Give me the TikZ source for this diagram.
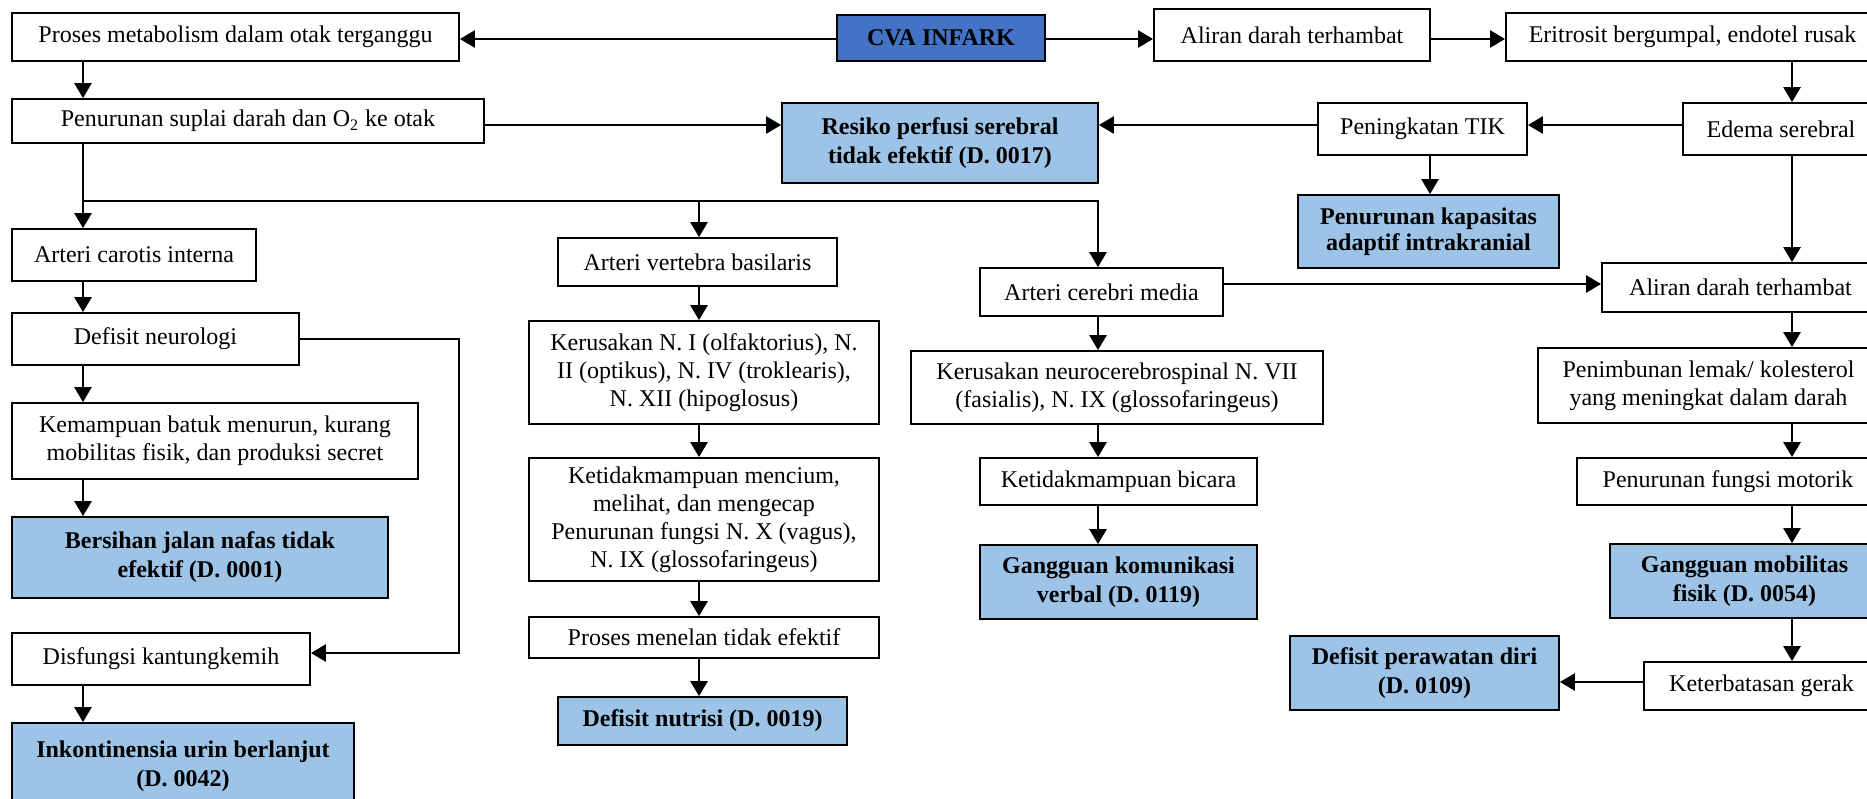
\documentclass[tikz,border=0pt]{standalone}
\usepackage{fontspec}
\setmainfont{Liberation Serif}
\usetikzlibrary{arrows.meta}
\definecolor{lblue}{RGB}{157,195,230}
\definecolor{dblue}{RGB}{68,114,196}
\tikzset{
  boxw/.style={draw=black, line width=0.9pt, fill=white, align=center, inner xsep=2pt, inner ysep=0pt, font=\fontsize{12}{14}\selectfont},
  boxb/.style={boxw, fill=lblue, font=\fontsize{12}{14.5}\selectfont\bfseries},
  boxc/.style={boxw, fill=dblue, font=\fontsize{12}{14.5}\selectfont\bfseries},
  conn/.style={line width=1.3pt, -{Triangle[length=7.5pt,width=8.5pt]}},
}
\newcommand\mkbox[7]{\node[#1, minimum width={(#5-#3)*0.5pt}, minimum height={(#6-#4)*0.5pt}] (#2) at ({(#3+#5)/2},{(#4+#6)/2}) {#7};}
\begin{document}
\begin{tikzpicture}[x=0.5pt,y=-0.5pt]
\useasboundingbox (0,0) rectangle (1867,798);
\fill[white] (0,0) rectangle (1867,798);
% row 1
\mkbox{boxw}{proses}{12}{13}{459}{61}{Proses metabolism dalam otak terganggu}
\mkbox{boxc}{cva}{837}{15}{1045}{61}{CVA INFARK}
\mkbox{boxw}{aliran1}{1154}{9}{1430}{61}{Aliran darah terhambat}
\mkbox{boxw}{eritrosit}{1506}{13}{1879}{61}{Eritrosit bergumpal, endotel rusak}
% row 2
\mkbox{boxw}{suplai}{12}{99}{484}{143}{\raisebox{-2.5pt}{Penurunan suplai darah dan O\textsubscript{2} ke otak}}
\mkbox{boxb}{resiko}{782}{103}{1098}{183}{Resiko perfusi serebral\\tidak efektif (D. 0017)}
\mkbox{boxw}{tik}{1318}{103}{1527}{155}{Peningkatan TIK}
\mkbox{boxw}{edema}{1683}{103}{1879}{155}{Edema serebral}
\mkbox{boxb}{kapasitas}{1298}{195}{1559}{268}{\raisebox{-2.5pt}{\begin{tabular}{@{}c@{}}Penurunan kapasitas\\[-1.5pt]adaptif intrakranial\end{tabular}}}
% arteries
\mkbox{boxw}{carotis}{12}{229}{256}{281}{Arteri carotis interna}
\mkbox{boxw}{vertebra}{558}{238}{837}{286}{Arteri vertebra basilaris}
\mkbox{boxw}{cerebri}{980}{268}{1223}{316}{Arteri cerebri media}
\mkbox{boxw}{aliran2}{1602}{263}{1879}{312}{Aliran darah terhambat}
% left column
\mkbox{boxw}{neuro}{12}{313}{299}{365}{Defisit neurologi}
\mkbox{boxw}{batuk}{12}{403}{418}{479}{Kemampuan batuk menurun, kurang\\mobilitas fisik, dan produksi secret}
\mkbox{boxb}{bersihan}{12}{517}{388}{598}{Bersihan jalan nafas tidak\\efektif (D. 0001)}
\mkbox{boxw}{disfungsi}{12}{633}{310}{685}{Disfungsi kantungkemih}
\mkbox{boxb}{inkontinensia}{12}{723}{354}{810}{Inkontinensia urin berlanjut\\(D. 0042)}
% vertebra column
\mkbox{boxw}{kerusakanN}{529}{321}{879}{424}{Kerusakan N. I (olfaktorius), N.\\II (optikus), N. IV (troklearis),\\N. XII (hipoglosus)}
\mkbox{boxw}{mencium}{529}{458}{879}{581}{Ketidakmampuan mencium,\\melihat, dan mengecap\\Penurunan fungsi N. X (vagus),\\N. IX (glossofaringeus)}
\mkbox{boxw}{menelan}{529}{617}{879}{658}{Proses menelan tidak efektif}
\mkbox{boxb}{nutrisi}{558}{697}{847}{745}{Defisit nutrisi (D. 0019)}
% cerebri column
\mkbox{boxw}{neurocereb}{911}{351}{1323}{424}{Kerusakan neurocerebrospinal N. VII\\(fasialis), N. IX (glossofaringeus)}
\mkbox{boxw}{bicara}{980}{458}{1257}{505}{Ketidakmampuan bicara}
\mkbox{boxb}{komunikasi}{980}{545}{1257}{619}{Gangguan komunikasi\\verbal (D. 0119)}
% right column
\mkbox{boxw}{penimbunan}{1538}{348}{1879}{423}{Penimbunan lemak/ kolesterol\\yang meningkat dalam darah}
\mkbox{boxw}{motorik}{1577}{458}{1879}{505}{Penurunan fungsi motorik}
\mkbox{boxb}{mobilitas}{1610}{544}{1879}{618}{Gangguan mobilitas\\fisik (D. 0054)}
\mkbox{boxw}{gerak}{1644}{662}{1879}{710}{Keterbatasan gerak}
\mkbox{boxb}{perawatan}{1290}{636}{1559}{710}{Defisit perawatan diri\\(D. 0109)}
% reference coordinates
\coordinate (xL) at (83,0);
\coordinate (xV) at (699,0);
\coordinate (xC) at (1098,0);
\coordinate (xT) at (1430,0);
\coordinate (xR) at (1792,0);
\coordinate (xD) at (459,0);
\coordinate (y1) at (0,39);
\coordinate (y2) at (0,125);
\coordinate (y3) at (0,201);
\coordinate (y4) at (0,284);
\coordinate (y5) at (0,339);
\coordinate (y6) at (0,653);
\coordinate (y7) at (0,682);
% connectors
\draw[conn] (cva.west |- y1) -- (proses.east |- y1);
\draw[conn] (cva.east |- y1) -- (aliran1.west |- y1);
\draw[conn] (aliran1.east |- y1) -- (eritrosit.west |- y1);
\draw[conn] (proses.south -| xL) -- (suplai.north -| xL);
\draw[conn] (suplai.east |- y2) -- (resiko.west |- y2);
\draw[conn] (edema.west |- y2) -- (tik.east |- y2);
\draw[conn] (tik.west |- y2) -- (resiko.east |- y2);
\draw[conn] (tik.south -| xT) -- (kapasitas.north -| xT);
\draw[conn] (eritrosit.south -| xR) -- (edema.north -| xR);
\draw[conn] (edema.south -| xR) -- (aliran2.north -| xR);
\draw[conn] (suplai.south -| xL) -- (carotis.north -| xL);
\draw[conn] (xL |- y3) -- (xC |- y3) -- (cerebri.north -| xC);
\draw[conn] (xV |- y3) -- (vertebra.north -| xV);
\draw[conn] (cerebri.east |- y4) -- (aliran2.west |- y4);
\draw[conn] (aliran2.south -| xR) -- (penimbunan.north -| xR);
\draw[conn] (penimbunan.south -| xR) -- (motorik.north -| xR);
\draw[conn] (motorik.south -| xR) -- (mobilitas.north -| xR);
\draw[conn] (mobilitas.south -| xR) -- (gerak.north -| xR);
\draw[conn] (gerak.west |- y7) -- (perawatan.east |- y7);
\draw[conn] (carotis.south -| xL) -- (neuro.north -| xL);
\draw[conn] (neuro.south -| xL) -- (batuk.north -| xL);
\draw[conn] (batuk.south -| xL) -- (bersihan.north -| xL);
\draw[conn] (disfungsi.south -| xL) -- (inkontinensia.north -| xL);
\draw[conn] (neuro.east |- y5) -- (xD |- y5) -- (xD |- y6) -- (disfungsi.east |- y6);
\draw[conn] (vertebra.south -| xV) -- (kerusakanN.north -| xV);
\draw[conn] (kerusakanN.south -| xV) -- (mencium.north -| xV);
\draw[conn] (mencium.south -| xV) -- (menelan.north -| xV);
\draw[conn] (menelan.south -| xV) -- (nutrisi.north -| xV);
\draw[conn] (cerebri.south -| xC) -- (neurocereb.north -| xC);
\draw[conn] (neurocereb.south -| xC) -- (bicara.north -| xC);
\draw[conn] (bicara.south -| xC) -- (komunikasi.north -| xC);
\end{tikzpicture}
\end{document}
